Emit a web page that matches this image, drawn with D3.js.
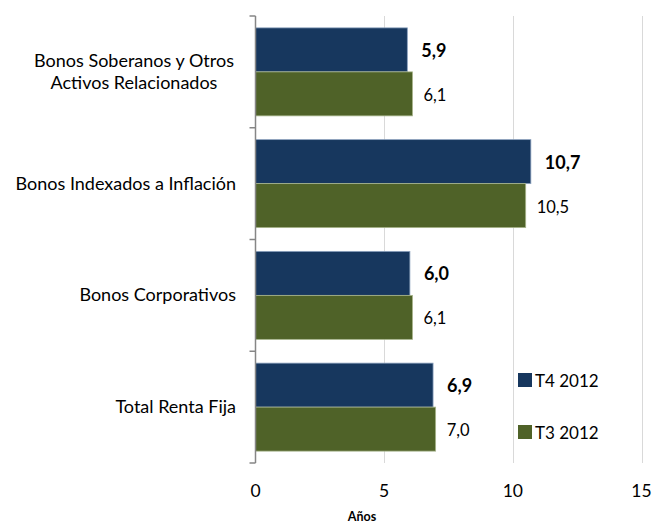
<!DOCTYPE html>
<html>
<head>
<meta charset="utf-8">
<script src="https://cdn.jsdelivr.net/npm/d3@7"></script>
<style>
  body { margin: 0; background: #fff; }
  text { font-family: Lato, "Open Sans", sans-serif; fill: #000; }
</style>
</head>
<body>
<svg id="chart" width="653" height="523"></svg>
<script>
// Data
const categories = [
    ["Bonos Soberanos y Otros", "Activos Relacionados"],
    ["Bonos Indexados a Inflación"],
    ["Bonos Corporativos"],
    ["Total Renta Fija"]
];
const seriesNames = ["T4 2012", "T3 2012"];
const t4Values = [5.9, 10.7, 6.0, 6.9];
const t3Values = [6.1, 10.5, 6.1, 7.0];
const xTicks = [0, 5, 10, 15];
const colors = ["#17375E", "#4F6228"];

const svg = d3.select("#chart");
const plotLeft = 255.5, plotTop = 16, plotBottom = 463;

const x = d3.scaleLinear().domain([0, 15]).range([plotLeft, 641.5]);
const y = d3.scaleBand().domain(d3.range(categories.length)).range([plotTop, plotBottom]);
const inner = d3.scaleBand().domain([0, 1]).range([0, y.bandwidth()]).paddingOuter(0.27).paddingInner(0);

// gridlines
svg.append("g")
    .selectAll("line")
    .data(xTicks.slice(1))
    .join("line")
    .attr("x1", d => Math.round(x(d)) + 0.5)
    .attr("x2", d => Math.round(x(d)) + 0.5)
    .attr("y1", plotTop)
    .attr("y2", plotBottom)
    .attr("stroke", "#d9d9d9")
    .attr("stroke-width", 1);

// bars + value labels
const series = [t4Values, t3Values];
series.forEach((vals, s) => {
    svg.append("g")
        .selectAll("rect")
        .data(vals)
        .join("rect")
        .attr("x", x(0))
        .attr("y", (d, i) => y(i) + inner(s))
        .attr("width", d => x(d) - x(0))
        .attr("height", inner.bandwidth())
        .attr("fill", colors[s])
        .attr("stroke", s === 0 ? "#8aa0bd" : "#a8b58c")
        .attr("stroke-width", 0.8);

    svg.append("g")
        .selectAll("text")
        .data(vals)
        .join("text")
        .attr("x", d => x(d) + (s === 0 ? 14 : 11))
        .attr("y", (d, i) => y(i) + inner(s) + inner.bandwidth() / 2 + 7)
        .attr("font-size", s === 0 ? 18 : 16.5)
        .attr("font-weight", s === 0 ? "bold" : "normal")
        .text(d => d.toFixed(1).replace(".", ","));
});

// left axis
const yAxis = svg.append("g");
yAxis.append("line")
    .attr("x1", plotLeft).attr("x2", plotLeft)
    .attr("y1", plotTop).attr("y2", plotBottom)
    .attr("stroke", "#868686").attr("stroke-width", 1.5);
yAxis.selectAll("line.tick")
    .data(d3.range(categories.length + 1))
    .join("line")
    .attr("class", "tick")
    .attr("x1", plotLeft - 6).attr("x2", plotLeft)
    .attr("y1", i => i < categories.length ? y(i) : plotBottom)
    .attr("y2", i => i < categories.length ? y(i) : plotBottom)
    .attr("stroke", "#868686").attr("stroke-width", 1.5);

// category labels
categories.forEach((lines, i) => {
    const cy = y(i) + y.bandwidth() / 2;
    const t = svg.append("text")
        .attr("font-size", 18)
        .attr("text-anchor", lines.length > 1 ? "middle" : "end");
    lines.forEach((line, j) => {
        t.append("tspan")
            .attr("x", lines.length > 1 ? 134 : 236)
            .attr("y", cy + 6 + (j - (lines.length - 1) / 2) * 22)
            .text(line);
    });
});

// x tick labels
svg.append("g")
    .selectAll("text")
    .data(xTicks)
    .join("text")
    .attr("x", d => x(d))
    .attr("y", 497)
    .attr("text-anchor", "middle")
    .attr("font-size", 17.5)
    .text(d => d);

svg.append("text")
    .attr("x", 362)
    .attr("y", 521)
    .attr("text-anchor", "middle")
    .attr("font-size", 12.5)
    .attr("font-weight", "bold")
    .text("Años");

// legend
const legend = svg.append("g");
seriesNames.forEach((name, i) => {
    const ly = 373 + i * 52;
    legend.append("rect")
        .attr("x", 518).attr("y", ly)
        .attr("width", 14).attr("height", 14)
        .attr("fill", colors[i]);
    legend.append("text")
        .attr("x", 535).attr("y", ly + 14)
        .attr("font-size", 17)
        .text(name);
});
</script>
</body>
</html>
